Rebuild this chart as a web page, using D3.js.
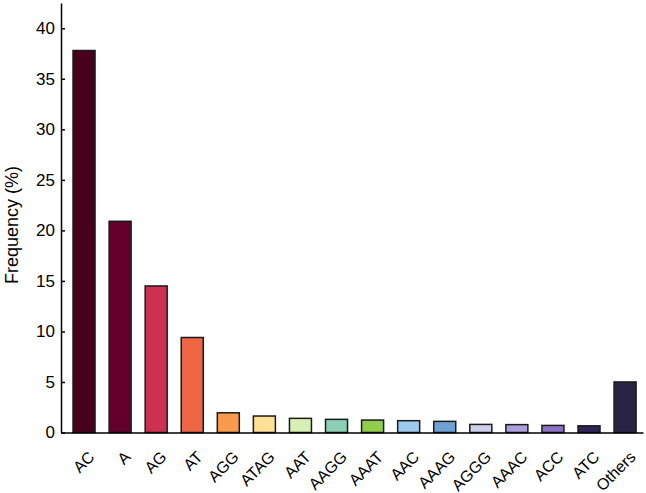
<!DOCTYPE html>
<html><head><meta charset="utf-8">
<script src="https://cdn.jsdelivr.net/npm/d3@7"></script>
<style>html,body{margin:0;padding:0;background:#fff;} svg{display:block;}</style>
</head><body>
<svg id="chart" width="646" height="493"></svg>
<script>
const categories = ["AC","A","AG","AT","AGG","ATAG","AAT","AAGG","AAAT","AAC","AAAG","AGGG","AAAC","ACC","ATC","Others"];
const frequency = [37.8,20.9,14.5,9.4,1.95,1.63,1.4,1.3,1.23,1.17,1.1,0.8,0.78,0.7,0.66,5.0];
const barColors = ["#47001c","#63002c","#cc3150","#ef6645","#f99a4e","#fde095","#d7efb4","#8bcfb4","#93cd4b","#9dcaec","#6fa1d5","#cfd0ec","#aa9edb","#8b72c6","#2f2657","#282446"];
const yTicks = [0,5,10,15,20,25,30,35,40];
const yLabel = "Frequency (%)";

const svg = d3.select("#chart");
const plotLeft = 61, plotRight = 643, plotTop = 3, plotBottom = 432.5;

const x = d3.scaleBand().domain(categories).range([plotLeft, plotRight])
  .paddingInner(0.39).paddingOuter(0.2626).align(0.635);
const y = d3.scaleLinear().domain([0, 42.5]).range([plotBottom, plotTop]);

// bars
svg.append("g").selectAll("rect").data(categories).join("rect")
  .attr("x", d => x(d))
  .attr("y", (d,i) => y(frequency[i]))
  .attr("width", x.bandwidth())
  .attr("height", (d,i) => y(0) - y(frequency[i]))
  .attr("fill", (d,i) => barColors[i])
  .attr("stroke", "#1a1a1a")
  .attr("stroke-width", 1.5);

// y axis
const yAxis = svg.append("g").attr("transform", `translate(${plotLeft},0)`)
  .call(d3.axisLeft(y).tickValues(yTicks).tickSizeInner(-4).tickSizeOuter(0).tickPadding(6));
yAxis.select(".domain").attr("stroke", "#000").attr("stroke-width", 1.5);
yAxis.selectAll(".tick line").attr("stroke", "#000").attr("stroke-width", 1.5);
yAxis.selectAll(".tick text").attr("font-family", "Liberation Sans, Arial, sans-serif")
  .attr("font-size", 17).attr("fill", "#000");

// x axis
const xAxis = svg.append("g").attr("transform", `translate(0,${plotBottom})`)
  .call(d3.axisBottom(x).tickSize(0).tickPadding(0));
xAxis.select(".domain").attr("stroke", "#000").attr("stroke-width", 1.5);
xAxis.selectAll(".tick text")
  .attr("font-family", "Liberation Sans, Arial, sans-serif")
  .attr("font-size", 16).attr("fill", "#000")
  .attr("text-anchor", "end")
  .attr("dy", null)
  .attr("transform", "translate(11.5,25.5) rotate(-45)");

// y label
svg.append("text")
  .attr("transform", `translate(17.5,225) rotate(-90)`)
  .attr("text-anchor", "middle")
  .attr("font-family", "Liberation Sans, Arial, sans-serif")
  .attr("font-size", 18).attr("fill", "#000")
  .text(yLabel);
</script>
</body></html>
